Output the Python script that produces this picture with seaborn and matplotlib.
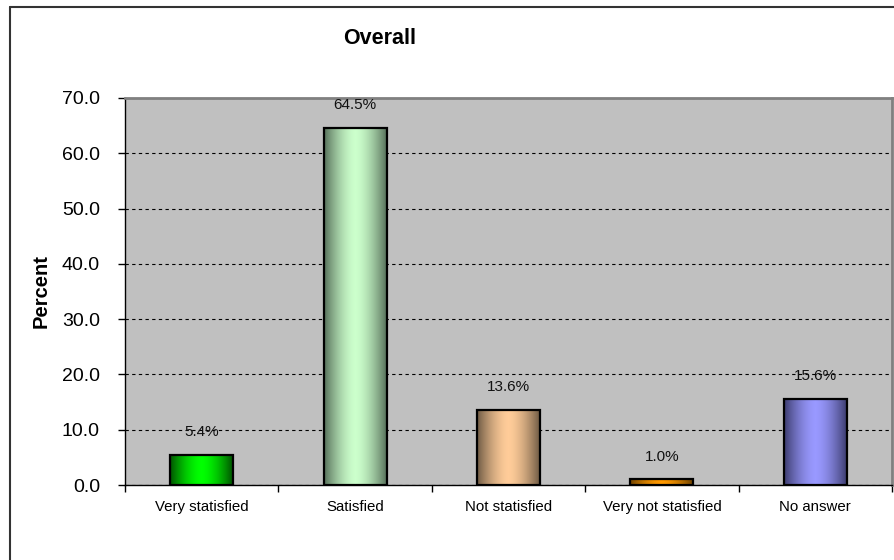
import numpy as np
import pandas as pd
import matplotlib
matplotlib.use("Agg")
import matplotlib.pyplot as plt
from matplotlib.colors import LinearSegmentedColormap
from matplotlib.lines import Line2D
import seaborn as sns

# Survey results
categories = ["Very statisfied", "Satisfied", "Not statisfied", "Very not statisfied", "No answer"]
percent = [5.4, 64.5, 13.6, 1.0, 15.6]
value_labels = ["5.4%", "64.5%", "13.6%", "1.0%", "15.6%"]
yticks = [0, 10, 20, 30, 40, 50, 60, 70]

# (centre colour, edge colour) of each bar's shaded fill
bar_shades = [
    ("#00FF00", "#005200"),
    ("#CCFFCC", "#56705A"),
    ("#FFCC99", "#6E5A44"),
    ("#FF9900", "#6E4200"),
    ("#9999FF", "#3C3C6E"),
]

sns.set_theme(style="white")
plt.rcParams["font.family"] = ["Liberation Sans", "DejaVu Sans"]
plt.rcParams["text.color"] = "black"
plt.rcParams["xtick.color"] = "black"
plt.rcParams["ytick.color"] = "black"
plt.rcParams["axes.labelcolor"] = "black"

df = pd.DataFrame({"category": categories, "percent": percent})

fig = plt.figure(figsize=(8.95, 5.6), dpi=100)
ax = fig.add_axes([125 / 895, 75 / 560, 767 / 895, 387 / 560])
ax.set_facecolor("#C0C0C0")

sns.barplot(data=df, x="category", y="percent", ax=ax, width=0.41,
            color="#C0C0C0", edgecolor="black", linewidth=1.6, zorder=3)

# cylinder-style horizontal shading inside each bar
xs = np.linspace(0, 1, 256)
profile = 1 - np.abs(2 * xs - 1) ** 1.6
for patch, (light, dark) in zip(ax.patches, bar_shades):
    cmap = LinearSegmentedColormap.from_list("shade", [dark, light])
    x0, y0 = patch.get_x(), patch.get_y()
    w, h = patch.get_width(), patch.get_height()
    im = ax.imshow(profile[np.newaxis, :], cmap=cmap, vmin=0, vmax=1,
                   extent=[x0, x0 + w, y0, y0 + h], aspect="auto",
                   interpolation="bilinear", zorder=3.5)
    im.set_clip_path(patch)
    patch.set_facecolor("none")
    patch.set_zorder(4)

for i, (v, lab) in enumerate(zip(percent, value_labels)):
    ax.annotate(lab, xy=(i, v), xytext=(0, 16.5), textcoords="offset points",
                ha="center", va="center", fontsize=11, color="#111111", zorder=5)

ax.set_xlim(-0.5, len(categories) - 0.5)
ax.set_ylim(0, 70)
ax.set_yticks(yticks)
ax.set_yticklabels([f"{t:.1f}" for t in yticks])
ax.yaxis.grid(True, linestyle=(0, (3, 3)), color="black", linewidth=0.8, zorder=1)
ax.set_axisbelow(True)

# category labels centred, tick marks on the category boundaries
ax.set_xticks(range(len(categories)))
ax.set_xticklabels(categories, fontsize=10.8)
ax.set_xticks(np.arange(-0.5, len(categories), 1.0), minor=True)
ax.tick_params(axis="x", which="major", length=0, pad=11)
ax.tick_params(axis="x", which="minor", length=5, width=1, color="black",
               direction="out", bottom=True)
ax.tick_params(axis="y", which="major", length=5, width=1, color="black",
               direction="out", left=True, labelsize=14, pad=13)

ax.set_xlabel("")
ax.set_ylabel("Percent", fontsize=14.5, fontweight="bold")
ax.yaxis.set_label_coords(-0.0965, 0.5)

for side in ("left", "bottom"):
    ax.spines[side].set_color("black")
    ax.spines[side].set_linewidth(1.0)
for side in ("top", "right"):
    ax.spines[side].set_color("#808080")
    ax.spines[side].set_linewidth(2.0)

fig.text(380 / 895, 1 - 38 / 560, "Overall", ha="center", va="center",
         fontsize=15.5, fontweight="bold")

# chart frame
fig.add_artist(Line2D([10 / 895, 1.0], [1 - 7 / 560, 1 - 7 / 560],
                      color="#333333", linewidth=1.5, transform=fig.transFigure))
fig.add_artist(Line2D([10 / 895, 10 / 895], [0.0, 1 - 7 / 560],
                      color="#333333", linewidth=1.5, transform=fig.transFigure))

fig.savefig("out.png", dpi=100)
